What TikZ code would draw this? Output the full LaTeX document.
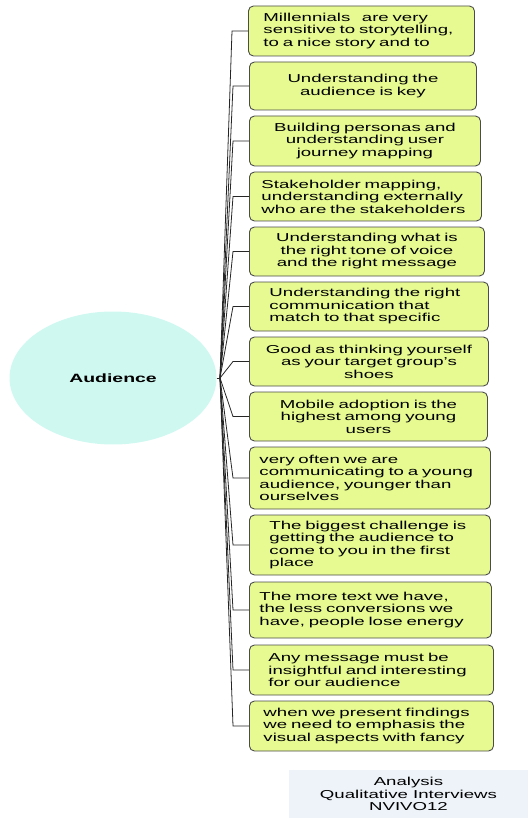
\documentclass[tikz,border=0pt]{standalone}
\usepackage{fontspec}
\setmainfont[FakeStretch=1.62]{Liberation Sans}
\usetikzlibrary{shapes.geometric}
\definecolor{leafgreen}{RGB}{230,250,145}
\definecolor{rootcyan}{RGB}{207,248,240}
\definecolor{notegray}{RGB}{237,243,249}
\tikzset{topic/.style={ellipse,fill=rootcyan,minimum width=207pt,minimum height=133pt,inner sep=0pt,font=\fontsize{12}{14}\selectfont\bfseries},
		idea/.style={rectangle,rounded corners=5pt,draw=black!70,fill=leafgreen,line width=0.9pt,anchor=west,inner xsep=10pt,inner ysep=2pt,font=\fontsize{11.5}{12.5}\selectfont},
		note/.style={rectangle,fill=notegray,minimum width=239pt,minimum height=48pt,align=center,font=\fontsize{11.5}{12.5}\selectfont},
		link/.style={draw=black!85,line width=0.8pt}}

\begin{document}
\begin{tikzpicture}[x=1pt,y=-1pt]
		\useasboundingbox (0,0) rectangle (528,818);
		\node[topic] (audience) at (113,378) {Audience};
		\coordinate (hub) at (220,378);
		\draw[link] (audience.east) -- (hub);

		\node[idea,inner xsep=15pt,text width=196pt,minimum height=50pt,align=left] (millennials) at (248,31) {Millennials\ \ \ are very\\sensitive to storytelling,\\to a nice story and to};
		\node[idea,text width=207pt,minimum height=48pt,align=center] (audience-key) at (249,86) {Understanding the\\audience is key};
		\node[idea,text width=211pt,minimum height=50pt,align=center] (personas) at (249,141) {Building personas and\\understanding user\\journey mapping};
		\node[idea,inner xsep=12pt,text width=208pt,minimum height=49pt,align=left] (stakeholders) at (249,196.5) {Stakeholder mapping,\\understanding externally\\who are the stakeholders};
		\node[idea,text width=215pt,minimum height=49pt,align=center] (tone) at (249,251.5) {Understanding what is\\the right tone of voice\\and the right message};
		\node[idea,inner xsep=20pt,text width=199pt,minimum height=49pt,align=left] (communication) at (249,306.5) {Understanding the right\\communication that\\match to that specific};
		\node[idea,text width=219pt,minimum height=49pt,align=center] (target-group) at (249,361.5) {Good as thinking yourself\\as your target group's\\shoes};
		\node[idea,text width=218pt,minimum height=49pt,align=center] (mobile) at (249,416.5) {Mobile adoption is the\\highest among young\\users};
		\node[idea,text width=221pt,minimum height=62pt,align=left] (young) at (249,478) {very often we are\\communicating to a young\\audience, younger than\\ourselves};
		\node[idea,inner xsep=20pt,text width=201pt,minimum height=60pt,align=left] (challenge) at (249,545) {The biggest challenge is\\getting the audience to\\come to you in the first\\place};
		\node[idea,text width=222pt,minimum height=56pt,align=left] (more-text) at (249,610) {The more text we have,\\the less conversions we\\have, people lose energy};
		\node[idea,inner xsep=19pt,text width=206pt,minimum height=50pt,align=left] (message) at (249,670) {Any message must be\\insightful and interesting\\for our audience};
		\node[idea,inner xsep=14pt,text width=216pt,minimum height=50pt,align=left] (findings) at (249,726) {when we present findings\\we need to emphasis the\\visual aspects with fancy};

		\draw[link] (hub) -- ([xshift=-16pt]millennials.west) -- (millennials.west);
		\draw[link] (hub) -- ([xshift=-16pt]audience-key.west) -- (audience-key.west);
		\draw[link] (hub) -- ([xshift=-16pt]personas.west) -- (personas.west);
		\draw[link] (hub) -- ([xshift=-16pt]stakeholders.west) -- (stakeholders.west);
		\draw[link] (hub) -- ([xshift=-16pt]tone.west) -- (tone.west);
		\draw[link] (hub) -- ([xshift=-16pt]communication.west) -- (communication.west);
		\draw[link] (hub) -- ([xshift=-16pt]target-group.west) -- (target-group.west);
		\draw[link] (hub) -- ([xshift=-16pt]mobile.west) -- (mobile.west);
		\draw[link] (hub) -- ([xshift=-16pt]young.west) -- (young.west);
		\draw[link] (hub) -- ([xshift=-16pt]challenge.west) -- (challenge.west);
		\draw[link] (hub) -- ([xshift=-16pt]more-text.west) -- (more-text.west);
		\draw[link] (hub) -- ([xshift=-16pt]message.west) -- (message.west);
		\draw[link] (hub) -- ([xshift=-16pt]findings.west) -- (findings.west);

		\node[note] (analysis) at (408.5,794) {Analysis\\Qualitative Interviews\\NVIVO12};
	\end{tikzpicture}
\end{document}
